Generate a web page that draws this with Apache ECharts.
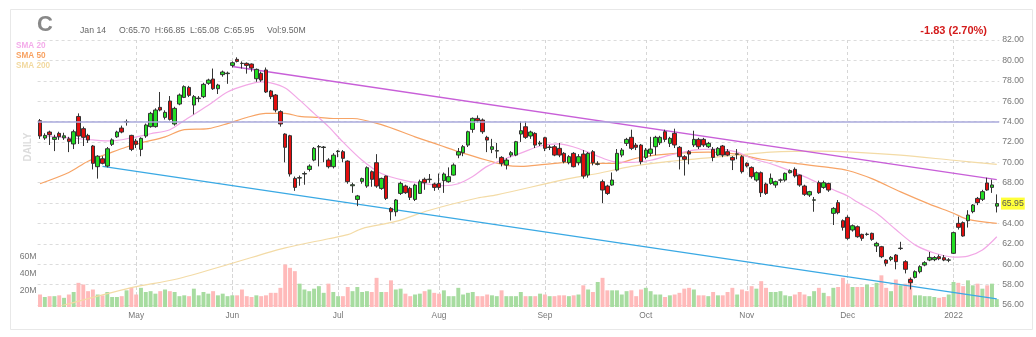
<!DOCTYPE html>
<html><head><meta charset="utf-8">
<script src="https://cdn.jsdelivr.net/npm/echarts@6/dist/echarts.min.js"></script>
<style>html,body{margin:0;padding:0;background:#fff;}#c{width:1036px;height:337px;}</style>
</head><body><div id="c"></div>
<script>
// ---- data ----
const startDate = '2021-04-05';
const barCount = 200;
const holidays = ['2021-05-31','2021-07-05','2021-09-06','2021-11-25','2021-12-24'];
const monthNames = ['Jan','Feb','Mar','Apr','May','Jun','Jul','Aug','Sep','Oct','Nov','Dec'];

const opens = [74.08,72.38,72.97,72.25,72.84,72.40,72.30,71.80,74.50,73.30,72.64,71.60,69.57,70.35,69.63,71.76,72.50,73.36,73.95,72.64,
72.09,71.27,72.58,73.50,73.50,75.39,74.41,76.01,73.76,75.72,76.37,77.35,75.62,76.25,76.44,77.75,78.17,77.22,78.60,78.70,
79.51,80.10,79.71,79.71,79.64,78.20,78.73,79.06,77.00,76.60,74.97,72.77,72.61,68.42,68.45,68.85,69.30,70.22,71.50,71.45,
70.22,69.57,71.05,71.04,70.12,67.70,66.36,68.13,67.67,69.08,69.96,67.44,68.65,65.48,65.15,66.95,67.67,67.44,66.36,66.95,
68.33,68.30,67.87,67.93,68.20,68.10,68.75,70.71,70.94,71.69,73.23,74.31,74.15,72.45,71.27,71.10,70.48,69.73,70.71,70.71,
72.77,73.49,72.58,72.84,71.80,72.41,71.45,71.53,71.37,70.88,69.96,70.88,69.96,70.81,68.75,71.04,69.80,68.10,67.67,67.77,
69.24,70.71,71.86,72.45,71.69,71.69,70.48,70.88,71.53,71.92,73.00,71.86,72.84,71.47,70.55,71.04,71.70,72.25,72.25,71.53,
71.27,70.71,71.60,71.04,70.48,70.80,70.55,69.90,69.50,68.26,68.98,67.87,67.93,67.77,68.25,68.26,68.98,69.31,68.75,67.67,
66.79,66.28,68.00,67.54,67.93,64.99,66.04,64.27,64.60,63.36,63.68,62.93,62.92,63.03,61.79,61.72,60.41,60.48,60.90,61.54,
60.25,58.50,58.71,59.27,59.92,60.41,60.45,60.74,60.64,60.40,61.07,64.01,64.08,64.27,65.16,66.46,66.37,67.97,67.54,65.70];
const highs = [74.25,72.85,73.10,72.70,73.00,72.90,72.50,73.20,74.80,73.50,72.80,71.70,70.70,70.60,71.50,72.35,73.10,73.60,74.20,72.70,
72.30,72.45,73.80,74.95,75.30,76.90,75.10,76.50,75.45,76.75,77.55,77.50,76.60,76.50,77.80,78.20,79.20,77.70,79.00,78.90,
79.90,80.30,79.90,79.80,79.70,79.20,78.90,79.30,77.10,76.70,75.10,72.85,72.70,68.60,68.70,69.10,69.80,71.50,71.70,71.60,
70.40,70.90,71.20,71.20,70.20,68.00,66.80,68.50,69.60,69.20,70.80,68.50,68.70,65.60,66.40,68.10,67.80,67.60,67.90,68.30,
68.50,68.85,68.00,68.90,69.00,69.50,69.90,71.40,71.70,73.10,74.40,74.60,74.30,72.60,72.30,71.90,70.60,70.40,71.10,72.10,
74.00,74.00,73.10,72.95,72.10,72.50,71.70,71.70,71.90,71.00,70.70,71.00,70.80,71.20,71.00,71.20,70.10,68.30,67.80,69.00,
71.30,71.40,72.40,73.20,71.90,71.80,71.40,72.50,72.60,72.60,73.20,72.50,73.30,71.60,70.70,71.20,73.10,72.40,72.40,72.00,
71.50,71.50,71.70,71.30,70.60,71.30,70.70,70.00,69.60,69.10,69.10,68.00,68.90,68.20,68.40,69.00,69.30,69.50,68.80,67.80,
67.20,66.60,68.20,68.20,68.00,65.60,66.30,64.40,64.80,63.90,63.80,63.00,63.10,63.10,62.20,61.80,60.50,60.80,61.00,62.20,
60.40,58.70,59.40,59.90,60.30,61.20,60.80,60.95,60.90,60.60,63.20,64.67,64.20,65.30,65.90,66.60,67.30,68.49,68.30,66.85];
const lows = [72.30,72.20,71.70,71.10,72.20,72.20,71.00,71.30,71.80,71.60,71.90,69.30,68.40,69.80,69.50,71.60,72.40,72.85,73.60,71.10,
71.40,70.60,72.40,73.40,73.40,75.00,74.20,74.10,73.60,75.60,76.30,76.40,74.70,75.90,76.30,77.60,77.10,76.70,78.40,77.70,
79.30,79.80,79.20,78.70,78.90,77.90,77.90,76.80,76.20,74.90,73.50,70.00,68.60,67.20,67.70,67.80,69.10,70.10,69.60,70.00,
69.40,69.40,70.50,70.00,67.90,67.00,65.70,67.90,67.50,67.60,67.50,67.30,66.30,64.30,64.70,66.80,66.90,66.30,66.20,66.90,
67.30,68.00,67.20,67.30,67.00,68.00,68.70,70.40,70.60,71.50,72.90,73.90,72.80,71.00,70.90,70.40,69.60,69.30,70.50,70.60,
72.00,72.30,72.30,71.40,71.60,71.10,71.20,70.60,70.50,69.90,69.80,69.50,69.70,68.40,68.50,69.70,69.70,66.00,66.80,67.70,
69.10,70.50,71.60,71.20,71.20,69.80,70.30,70.60,70.70,71.70,72.00,71.50,71.40,69.30,68.70,69.80,71.50,71.30,71.50,71.40,
70.10,70.60,70.50,70.60,69.24,70.30,68.90,69.50,68.40,68.10,66.60,66.80,67.80,67.50,68.00,68.10,68.90,68.50,67.60,66.70,
66.60,65.15,66.90,67.40,67.10,63.85,64.90,63.30,62.40,63.20,62.60,62.30,62.80,62.30,61.20,60.60,59.80,60.30,59.50,61.40,
59.10,57.53,58.60,59.10,59.80,60.30,60.30,60.40,60.30,60.20,61.00,63.40,62.70,63.60,65.00,65.80,66.20,67.20,67.00,65.08];
const closes = [72.58,72.64,72.71,72.45,72.51,72.60,72.05,73.00,72.58,72.45,72.19,69.90,70.60,69.90,71.33,72.20,72.97,72.97,74.00,71.27,
71.76,72.35,73.66,74.80,75.13,75.13,74.90,74.21,75.29,76.60,77.42,76.57,76.44,76.30,77.65,78.07,77.22,77.58,78.86,78.75,
79.77,79.90,79.70,79.51,79.25,79.12,78.07,76.90,76.44,75.13,73.76,71.47,68.85,67.54,68.50,68.90,69.63,71.37,71.55,71.50,
69.57,70.70,71.10,70.39,68.10,67.80,66.70,68.40,69.47,68.33,67.67,68.42,66.46,65.15,66.30,67.93,67.02,66.56,67.77,68.10,
68.00,68.35,67.54,67.54,68.85,68.59,69.73,71.04,71.53,73.00,74.31,74.08,73.00,72.18,71.53,71.15,69.90,70.22,70.94,72.02,
73.10,72.45,72.97,71.69,71.90,71.37,71.50,70.71,70.71,70.06,70.55,69.57,70.55,68.65,70.88,69.96,69.85,67.28,66.95,68.26,
70.88,71.20,72.25,71.37,71.47,70.06,71.20,71.30,72.45,72.45,72.25,72.35,71.70,70.55,70.29,70.81,72.25,71.53,71.70,71.86,
70.48,71.37,70.71,70.71,70.22,70.82,69.08,69.64,68.59,68.98,67.02,66.95,68.43,68.10,68.27,68.92,69.18,68.66,67.77,66.86,
67.12,66.32,67.02,68.00,67.28,65.48,65.06,63.62,62.54,63.78,62.70,62.54,62.95,62.44,62.05,60.74,60.09,60.67,60.25,61.58,
59.50,58.19,59.27,59.76,60.15,60.67,60.65,60.54,60.41,60.42,63.10,63.62,62.77,64.83,65.81,66.04,67.12,67.28,67.78,65.95];
// volume in millions
const volumes = [15,12,13,13,14,11,15,18,29,27,19,21,15,14,18,12,12,13,20,23,
15,23,18,19,16,19,21,19,18,13,14,13,22,14,18,16,19,14,16,13,
14,14,21,13,12,14,13,14,17,17,23,51,47,43,28,21,19,22,25,17,
28,18,13,13,24,19,24,18,19,18,35,18,18,32,21,22,16,13,15,16,
19,21,17,16,20,13,13,23,15,17,18,13,13,15,14,13,20,13,13,13,
18,13,13,13,16,15,13,13,14,14,13,14,15,26,21,18,30,35,20,20,
20,15,19,20,13,21,23,19,15,15,12,14,15,17,22,23,21,14,14,13,
18,14,14,18,23,15,21,19,25,22,31,23,18,18,19,14,13,15,18,15,
13,19,23,17,13,23,24,35,28,24,24,24,27,24,29,38,23,19,33,26,
28,35,14,14,13,13,12,11,12,15,30,29,25,32,26,28,22,26,28,9.5];

// moving averages: [bar index, value]
const sma20Bars = [1,6,11,15,19,23,27,30,35,39,43,46,48,51,54,57,60,63,67,71,76,80,84,87,90,93,97,100,104,108,111,114,116,119,123,127,131,136,141,145,148,153,159,164,168,170,174,178,182,186,190,193,196,199];
const sma20Vals = [72.6,72.4,72.2,72.1,72.4,72.8,73.2,74.1,75.6,76.9,77.6,77.9,77.8,77.3,76.1,74.8,73.5,72.0,70.2,68.9,68.2,67.9,67.7,67.9,68.6,69.6,70.4,70.9,71.6,71.8,71.5,71.0,70.6,70.1,70.0,70.2,70.7,71.2,71.3,71.0,70.4,69.7,68.6,67.5,66.7,66.1,65.0,63.4,61.9,61.1,60.7,60.8,61.4,62.7];
const sma50Bars = [0,6,10,15,18,21,26,30,35,39,43,47,51,54,58,61,65,71,78,83,88,93,97,100,105,110,116,120,124,128,133,139,145,150,157,164,168,173,179,185,190,193,199];
const sma50Vals = [67.9,69.0,70.1,71.0,71.5,71.9,72.5,73.2,73.3,73.8,74.4,74.8,74.8,74.5,74.4,74.3,74.3,73.7,72.5,71.7,70.9,70.2,69.7,69.6,69.8,70.0,69.9,69.9,70.4,70.7,70.9,71.0,70.8,70.3,69.9,69.5,69.2,68.4,67.1,65.9,65.0,64.4,64.0];
const sma200Bars = [2,19,28,40,51,60,64,67,74,81,91,95,109,116,123,131,145,152,162,169,179,190,199];
const sma200Vals = [55.6,57.7,58.5,60.1,61.6,62.5,62.9,63.5,64.2,65.3,66.5,66.8,68.3,68.9,69.6,70.1,70.7,71.0,71.1,71.0,70.7,70.2,69.8];

// trend lines: [bar index, price]
const upperTrend = [[40,79.4],[199,68.3]];
const lowerTrend = [[13,69.6],[199,56.6]];
const resistanceLevel = 74.0;

const priceTicks = {min:56, max:82, interval:2};
const volumeTicks = {min:0, max:60, interval:20};

const header = {symbol:'C', date:'Jan 14', ohlc:'O:65.70  H:66.85  L:65.08  C:65.95', vol:'Vol:9.50M', change:'-1.83 (2.70%)', last:65.95};

// ---- build ----
function buildDates(){
  const out=[]; const d=new Date(startDate+'T00:00:00Z');
  while(out.length<barCount){
    const wd=d.getUTCDay(); const s=d.toISOString().slice(0,10);
    if(wd!==0&&wd!==6&&holidays.indexOf(s)<0) out.push(s);
    d.setUTCDate(d.getUTCDate()+1);
  }
  return out;
}
const dates = buildDates();
const monthLabel = dates.map((s,i)=>{
  if(i===0) return '';
  if(s.slice(5,7)!==dates[i-1].slice(5,7)){
    const m=+s.slice(5,7);
    return m===1 ? s.slice(0,4) : monthNames[m-1];
  }
  return '';
});
const isMonthStart = (i)=> monthLabel[i] !== '';

const candleData = opens.map((o,i)=>[o, closes[i], lows[i], highs[i]]);
const volData = volumes.map((v,i)=>({value:v, itemStyle:{color: closes[i]>=opens[i] ? '#a7dca0' : '#ffbaba'}}));
const pairs = (b,v)=>b.map((x,i)=>[x,v[i]]);

const FONT = '"Liberation Sans", Arial, sans-serif';
const L = 37.6, W = 961.6;
const vSplit = {show:true, interval:(i)=>isMonthStart(i), alignWithLabel:true, lineStyle:{color:'#d6d6d6', type:[3,3], width:1}};

const staticGraphics = [
  {type:'rect', silent:true, shape:{x:10.5, y:9.5, width:1022, height:320}, style:{fill:'none', stroke:'#e8e8e8', lineWidth:1}},
  {type:'text', silent:true, x:37, y:25, style:{text:header.symbol, font:'bold 22px '+FONT, fill:'#888', textVerticalAlign:'middle'}},
  {type:'text', silent:true, x:80, y:31, style:{text:header.date, font:'8.7px '+FONT, fill:'#666', textVerticalAlign:'middle'}},
  {type:'text', silent:true, x:119, y:31, style:{text:header.ohlc, font:'8.7px '+FONT, fill:'#666', textVerticalAlign:'middle'}},
  {type:'text', silent:true, x:267, y:31, style:{text:header.vol, font:'8.7px '+FONT, fill:'#666', textVerticalAlign:'middle'}},
  {type:'text', silent:true, x:987, y:31, style:{text:header.change, font:'bold 11px '+FONT, fill:'#d41c1c', textAlign:'right', textVerticalAlign:'middle'}},
  {type:'text', silent:true, x:16, y:46, style:{text:'SMA 20', font:'bold 8.2px '+FONT, fill:'#f4acea', textVerticalAlign:'middle'}},
  {type:'text', silent:true, x:16, y:56, style:{text:'SMA 50', font:'bold 8.2px '+FONT, fill:'#f8a262', textVerticalAlign:'middle'}},
  {type:'text', silent:true, x:16, y:65.7, style:{text:'SMA 200', font:'bold 8.2px '+FONT, fill:'#f2d9a0', textVerticalAlign:'middle'}},
  {type:'text', silent:true, x:28, y:147, rotation:Math.PI/2, style:{text:'DAILY', font:'bold 10px '+FONT, fill:'#dcdcdc', textAlign:'center', textVerticalAlign:'middle'}}
];

const chart = echarts.init(document.getElementById('c'), null, {renderer:'canvas'});
chart.setOption({
  animation:false,
  backgroundColor:'#fff',
  grid:[
    {left:L, width:W, top:40, height:265},
    {left:L, width:W, top:257, height:50}
  ],
  xAxis:[
    {type:'category', gridIndex:0, data:dates, boundaryGap:true, axisLine:{show:false}, axisTick:{show:false}, axisLabel:{show:false}, splitLine:vSplit},
    {type:'category', gridIndex:1, data:dates, boundaryGap:true, axisLine:{show:false}, axisTick:{show:false},
      axisLabel:{show:true, interval:(i)=>isMonthStart(i), formatter:(v,i)=>monthLabel[i], color:'#777', fontSize:8.4, fontFamily:FONT, margin:5},
      splitLine:vSplit}
  ],
  yAxis:[
    {type:'value', gridIndex:0, position:'right', min:priceTicks.min, max:priceTicks.max, interval:priceTicks.interval,
      axisLine:{show:false}, axisTick:{show:false},
      axisLabel:{formatter:(v)=>v.toFixed(2), color:'#777', fontSize:8.7, fontFamily:FONT, margin:3},
      splitLine:{show:true, lineStyle:{color:'#dcdcdc', type:[3,3], width:1}}},
    {type:'value', gridIndex:1, position:'left', min:volumeTicks.min, max:volumeTicks.max, interval:volumeTicks.interval,
      axisLine:{show:false}, axisTick:{show:false}, splitLine:{show:false},
      axisLabel:{formatter:(v)=>v===0?'':v+'M', color:'#777', fontSize:8.7, fontFamily:FONT, margin:1}}
  ],
  series:[
    {type:'bar', xAxisIndex:1, yAxisIndex:1, data:volData, barWidth:'82%', z:1, silent:true},
    {type:'line', xAxisIndex:0, yAxisIndex:0, data:pairs(sma200Bars,sma200Vals), smooth:0.3, showSymbol:false, lineStyle:{color:'#f3dba6', width:1.2}, z:2, silent:true},
    {type:'line', xAxisIndex:0, yAxisIndex:0, data:pairs(sma50Bars,sma50Vals), smooth:0.3, showSymbol:false, lineStyle:{color:'#f7a466', width:1.2}, z:2, silent:true},
    {type:'line', xAxisIndex:0, yAxisIndex:0, data:pairs(sma20Bars,sma20Vals), smooth:0.3, showSymbol:false, lineStyle:{color:'#f2a8e6', width:1.2}, z:2, silent:true},
    {type:'line', xAxisIndex:0, yAxisIndex:0, data:upperTrend, showSymbol:false, lineStyle:{color:'#c85fd8', width:1.3}, z:3, silent:true},
    {type:'line', xAxisIndex:0, yAxisIndex:0, data:lowerTrend, showSymbol:false, lineStyle:{color:'#3aa9e4', width:1.3}, z:3, silent:true},
    {type:'candlestick', xAxisIndex:0, yAxisIndex:0, data:candleData, barWidth:4, z:4,
      itemStyle:{color:'#22dd22', color0:'#e30d0d', borderColor:'#333', borderColor0:'#333', borderWidth:1},
      markLine:{symbol:'none', silent:true, animation:false,
        data:[{yAxis:resistanceLevel, lineStyle:{color:'#aaaadd', width:1.6, type:'solid'}, label:{show:false}}]}
    }
  ],
  graphic: staticGraphics
});

// last-price tag placed through the price axis scale
const lastY = chart.convertToPixel({yAxisIndex:0}, header.last);
chart.setOption({graphic: staticGraphics.concat([
  {type:'text', silent:true, x:1001, y:lastY, z:10,
    style:{text:header.last.toFixed(2), font:'8.7px '+FONT, fill:'#555', backgroundColor:'#ffff3a', padding:[2,1,1,1], textVerticalAlign:'middle'}}
])});
</script>
</body></html>
